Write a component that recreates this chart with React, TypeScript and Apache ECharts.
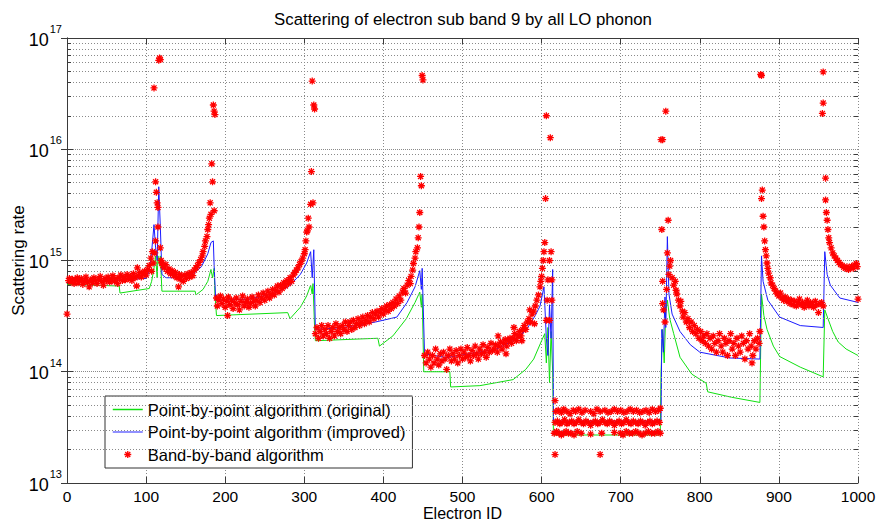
import React, { useEffect, useRef } from 'react';
import * as echarts from 'echarts';

const xMin = 0;
const xMax = 1000;
const xInterval = 100;
const yMin = 1e13;
const yMax = 1e17;
const decadeExponents = [13, 14, 15, 16];
const minorMultipliers = [2, 3, 4, 5, 6, 7, 8, 9];

const titleText = 'Scattering of electron sub band 9 by all LO phonon';
const seriesNames = [
  'Point-by-point algorithm (original)',
  'Point-by-point algorithm (improved)',
  'Band-by-band algorithm',
];

const greenLine = [
  [0, 6.1e14], [66, 5.9e14], [67, 5.1e14], [104, 5.6e14], [107, 6.5e14], [110, 8.5e14], [112, 1.1e15],
  [114, 7e14], [115, 1.1e15], [117, 9e14], [118, 1.1e15], [120, 5.3e14], [162, 5.3e14], [163, 4.9e14],
  [172, 5.5e14], [178, 6.5e14], [182, 8.3e14], [184, 7e14], [186, 8.5e14], [187, 5e14], [189, 3.2e14],
  [279, 3.4e14], [282, 3.0e14], [295, 3.8e14], [303, 4.8e14], [308, 6.0e14], [310, 5e14], [311, 6.2e14],
  [313, 2.5e14], [314, 1.9e14], [393, 2.0e14], [395, 1.7e14], [412, 2.1e14], [429, 3.0e14], [440, 4.2e14],
  [446, 5.2e14], [448, 3.8e14], [449, 5e14], [451, 1.0e14], [484, 1.0e14], [485, 7.3e13], [522, 7.5e13],
  [564, 8.5e13], [580, 1.05e14], [590, 1.3e14], [600, 1.9e14], [604, 2.2e14], [606, 1.2e14], [608, 2.5e14],
  [610, 8e13], [612, 2.3e14], [614, 1e14], [615, 2.7e13], [750, 2.7e13], [751, 1e14], [753, 2.4e14],
  [755, 1.2e14], [757, 3.5e14], [759, 4.4e14], [762, 3.0e14], [767, 2.2e14], [775, 1.35e14], [790, 9.5e13],
  [808, 7.9e13], [810, 6.6e13], [840, 5.9e13], [876, 5.3e13], [878, 5.0e14], [881, 3.2e14], [885, 2.4e14],
  [893, 1.7e14], [901, 1.37e14], [927, 1.1e14], [956, 9e13], [958, 3.6e14], [962, 3.0e14], [968, 2.3e14],
  [975, 1.85e14], [985, 1.6e14], [1000, 1.4e14],
];

const blueLine = [
  [0, 6.6e14], [50, 6.6e14], [100, 6.9e14], [104, 8.0e14], [107, 1.2e15], [110, 2.1e15], [112, 1.3e15],
  [114, 1.0e15], [116, 4.6e15], [118, 2e15], [120, 7.5e14], [125, 7.0e14], [140, 7.0e14], [160, 7.6e14],
  [170, 8.8e14], [178, 1.15e15], [182, 1.45e15], [185, 1.5e15], [186, 9e14], [188, 4.4e14], [230, 4.5e14],
  [260, 5.0e14], [280, 5.8e14], [295, 7.5e14], [303, 9.5e14], [308, 1.2e15], [310, 7e14], [312, 1.25e15],
  [314, 2.4e14], [350, 2.5e14], [390, 2.8e14], [417, 3.1e14], [430, 4.2e14], [440, 5.8e14], [446, 8.1e14],
  [448, 5.5e14], [449, 8.5e14], [452, 1.45e14], [480, 1.34e14], [543, 1.6e14], [570, 2.0e14], [581, 2.4e14],
  [592, 3.2e14], [598, 3.9e14], [603, 5.8e14], [606, 2e14], [608, 1.4e14], [610, 4e14], [612, 2e14],
  [614, 8.3e14], [615, 3.6e13], [751, 3.6e13], [752, 2.4e14], [754, 1.5e14], [756, 4.7e14], [757, 2.5e14],
  [759, 1.64e15], [761, 5e14], [765, 3.3e14], [775, 2.3e14], [788, 1.75e14], [800, 1.5e14], [838, 1.33e14],
  [876, 1.3e14], [878, 1.1e15], [880, 6.5e14], [886, 4.4e14], [901, 3.1e14], [927, 2.6e14], [956, 2.5e14],
  [958, 1.2e15], [961, 7.5e14], [965, 6e14], [977, 4.6e14], [1000, 4.2e14],
];

const redSegA = [
  [0, 3.3e14], [2, 6.6e14], [3, 6.9e14], [5, 6.4e14], [7, 6.8e14], [9, 6.2e14], [11, 6.7e14], [13, 7.0e14],
  [14, 6.3e14], [16, 6.6e14], [18, 6.9e14], [20, 6.1e14], [22, 6.5e14], [24, 7.1e14], [26, 6.4e14], [28, 5.8e14],
  [30, 6.7e14], [32, 6.3e14], [34, 7.0e14], [36, 6.6e14], [38, 6.2e14], [40, 6.8e14], [42, 7.2e14], [44, 6.5e14],
  [46, 6.0e14], [48, 6.9e14], [50, 6.6e14], [52, 7.1e14], [54, 6.4e14], [56, 6.8e14], [58, 7.3e14], [60, 6.5e14],
  [62, 6.9e14], [64, 6.2e14], [66, 7.0e14], [68, 7.4e14], [70, 6.6e14], [72, 7.1e14], [74, 6.7e14], [76, 7.5e14],
  [78, 6.9e14], [80, 7.2e14], [82, 6.6e14], [84, 7.6e14], [86, 7.0e14], [88, 5.9e14], [89, 8.6e14], [90, 7.3e14],
  [92, 7.8e14], [94, 7.1e14], [96, 7.6e14], [98, 8.0e14], [100, 7.4e14], [102, 8.3e14], [104, 9.0e14],
  [106, 1.05e15], [107, 8.0e14], [108, 1.2e15], [109, 9.5e14],
];

const redSpike1 = [
  [110, 3.56e16], [111, 1.17e15], [112, 5.1e15], [112, 1.5e15], [113, 4.1e15], [114, 3.3e15], [115, 3.0e15],
  [115, 2.0e15], [116, 6.3e16], [117, 6.6e16], [118, 6.4e16], [118, 1.3e15], [119, 1.0e15], [120, 9.5e14],
];

const redSegB = [
  [121, 9.0e14], [123, 8.6e14], [125, 9.2e14], [127, 8.0e14], [129, 8.4e14], [131, 7.6e14], [133, 8.1e14],
  [135, 7.3e14], [137, 7.8e14], [139, 7.0e14], [141, 5.8e14], [142, 7.5e14], [143, 6.8e14], [145, 7.2e14],
  [147, 6.5e14], [149, 7.4e14], [151, 6.9e14], [153, 7.6e14], [155, 7.1e14], [157, 7.8e14], [159, 7.3e14],
  [161, 8.2e14], [163, 8.6e14], [165, 9.0e14], [167, 9.6e14], [169, 1.02e15], [171, 1.1e15], [172, 1.2e15],
  [174, 1.34e15], [175, 1.5e15], [177, 1.64e15], [178, 1.9e15], [179, 2.1e15], [180, 2.4e15], [181, 3.3e15],
  [182, 2.6e15], [183, 7.4e15], [184, 5.1e15], [186, 2.8e15], [185, 2.5e16], [186, 2.2e16], [187, 2.05e16],
];

const redSegC = [
  [189, 4.6e14], [190, 3.9e14], [192, 4.4e14], [194, 4.8e14], [196, 4.1e14], [198, 4.5e14], [200, 3.8e14],
  [202, 4.3e14], [203, 3.2e14], [204, 4.7e14], [206, 4.0e14], [208, 4.4e14], [210, 3.7e14], [212, 4.2e14],
  [214, 4.6e14], [216, 4.0e14], [218, 3.6e14], [220, 4.3e14], [222, 4.8e14], [224, 3.9e14], [226, 4.2e14],
  [228, 4.5e14], [230, 3.8e14], [232, 4.1e14], [234, 4.7e14], [236, 4.3e14], [238, 3.9e14], [240, 4.4e14],
  [242, 4.9e14], [244, 4.2e14], [246, 4.6e14], [248, 5.1e14], [250, 4.4e14], [252, 4.8e14], [254, 5.3e14],
  [256, 4.6e14], [258, 5.0e14], [260, 5.5e14], [262, 4.9e14], [264, 5.4e14], [266, 5.9e14], [268, 5.2e14],
  [270, 6.0e14], [272, 5.6e14], [274, 6.3e14], [276, 5.9e14], [278, 6.6e14], [280, 6.2e14], [282, 7.0e14],
  [284, 6.5e14], [286, 7.4e14], [288, 7.8e14], [290, 8.2e14], [292, 8.6e14], [294, 9.2e14], [296, 9.8e14],
  [298, 1.05e15], [300, 1.15e15], [301, 1.25e15], [302, 1.5e15], [303, 1.8e15], [304, 1.85e15], [305, 2.4e15],
  [306, 2.0e15], [308, 3.2e15], [309, 6.3e15], [310, 4.1e16], [311, 3.3e15], [312, 2.5e16], [313, 2.3e16],
];

const redSegD = [
  [314, 2.2e14], [316, 2.5e14], [318, 2.0e14], [320, 2.3e14], [322, 2.6e14], [324, 2.1e14], [326, 2.4e14],
  [328, 2.2e14], [330, 2.6e14], [332, 2.0e14], [334, 2.3e14], [336, 2.5e14], [338, 2.1e14], [340, 2.7e14],
  [342, 2.3e14], [344, 2.5e14], [346, 2.2e14], [348, 2.6e14], [350, 2.4e14], [352, 2.8e14], [354, 2.3e14],
  [356, 2.6e14], [358, 2.8e14], [360, 2.4e14], [362, 2.9e14], [364, 2.5e14], [366, 2.7e14], [368, 3.0e14],
  [370, 2.6e14], [372, 2.8e14], [374, 3.1e14], [376, 2.7e14], [378, 2.9e14], [380, 3.2e14], [382, 2.8e14],
  [384, 3.1e14], [386, 3.4e14], [388, 3.0e14], [390, 3.3e14], [392, 3.5e14], [394, 3.1e14], [396, 3.4e14],
  [398, 3.7e14], [400, 3.3e14], [402, 3.6e14], [404, 3.9e14], [406, 3.5e14], [408, 4.0e14], [410, 3.7e14],
  [412, 4.2e14], [414, 3.9e14], [416, 4.5e14], [418, 4.1e14], [420, 4.8e14], [422, 4.4e14], [424, 5.2e14],
  [426, 5.6e14], [428, 5.1e14], [430, 6.0e14], [432, 6.6e14], [434, 6.2e14], [435, 7.2e14], [437, 8.2e14],
  [438, 9.4e14], [440, 1.05e15], [441, 1.2e15], [443, 1.3e15], [444, 1.6e15], [445, 2.0e15], [446, 2.7e15],
  [447, 5.7e15], [448, 4.7e15], [449, 4.6e16], [450, 4.2e16],
];

const redSegE = [
  [452, 1.4e14], [454, 1.2e14], [456, 1.5e14], [458, 1.3e14], [460, 1.1e14], [462, 1.4e14], [464, 1.2e14],
  [466, 1.6e14], [468, 1.3e14], [470, 1.15e14], [472, 1.45e14], [474, 1.25e14], [476, 1.5e14], [478, 1.3e14],
  [480, 1.05e14], [482, 1.4e14], [484, 1.6e14], [486, 1.25e14], [488, 1.45e14], [490, 1.3e14], [492, 1.55e14],
  [494, 1.2e14], [496, 1.4e14], [498, 1.6e14], [500, 1.3e14], [502, 1.5e14], [504, 1.35e14], [506, 1.65e14],
  [508, 1.4e14], [510, 1.25e14], [512, 1.55e14], [514, 1.4e14], [516, 1.7e14], [518, 1.45e14], [520, 1.3e14],
  [522, 1.6e14], [524, 1.45e14], [526, 1.75e14], [528, 1.5e14], [530, 1.35e14], [532, 1.65e14], [534, 1.5e14],
  [536, 1.8e14], [538, 1.55e14], [540, 1.6e14], [542, 1.75e14], [544, 1.5e14], [545, 2.1e14], [546, 1.7e14],
  [548, 1.85e14], [550, 1.6e14], [552, 1.8e14], [554, 1.95e14], [555, 1.45e14], [556, 1.7e14], [558, 1.9e14],
  [560, 2.0e14], [562, 1.8e14], [564, 2.0e14], [565, 2.5e14], [566, 2.2e14], [568, 1.9e14], [570, 2.1e14],
  [572, 2.3e14], [574, 2.1e14], [575, 1.9e14], [576, 2.4e14], [578, 2.6e14], [580, 2.4e14], [582, 2.8e14],
  [584, 3.0e14], [585, 3.6e14], [586, 2.8e14], [588, 3.3e14], [590, 3.5e14], [591, 2.7e14], [592, 3.9e14],
  [594, 4.4e14], [596, 4.9e14], [598, 5.8e14], [599, 6.5e14], [600, 7.2e14], [601, 8.5e14], [602, 1.0e15],
  [603, 1.2e15], [604, 1.45e15], [605, 3.6e15], [606, 2.9e14], [607, 4.4e14], [608, 6.7e14], [606, 2.0e16],
  [610, 1.0e15], [611, 1.27e16], [612, 1.2e15], [613, 6.7e14], [613, 4.4e14], [610, 2.9e14], [617, 5.5e13],
];

const redSegF = [
  [618, 4.4e13], [621, 4.5e13], [625, 4.3e13], [628, 4.6e13], [632, 4.4e13], [636, 4.2e13], [640, 4.5e13],
  [643, 4.4e13], [647, 4.6e13], [651, 4.3e13], [655, 4.5e13], [662, 4.4e13], [666, 4.2e13], [670, 4.6e13],
  [674, 4.4e13], [680, 4.5e13], [684, 4.3e13], [688, 4.4e13], [692, 4.6e13], [696, 4.4e13], [700, 4.5e13],
  [704, 4.3e13], [708, 4.4e13], [712, 4.6e13], [716, 4.4e13], [720, 4.5e13], [724, 4.3e13], [728, 4.4e13],
  [732, 4.5e13], [736, 4.3e13], [740, 4.6e13], [744, 4.4e13], [748, 4.5e13], [750, 4.7e13],
  [617, 3.5e13], [620, 3.6e13], [623, 3.4e13], [626, 3.5e13], [629, 3.7e13], [632, 3.4e13], [635, 3.5e13],
  [638, 3.6e13], [641, 3.4e13], [644, 3.5e13], [647, 3.7e13], [650, 3.5e13], [653, 3.4e13], [656, 3.6e13],
  [659, 3.5e13], [662, 3.3e13], [665, 3.5e13], [668, 3.6e13], [671, 3.4e13], [674, 3.5e13], [677, 3.7e13],
  [680, 3.5e13], [683, 3.4e13], [686, 3.6e13], [689, 3.5e13], [692, 3.3e13], [695, 3.5e13], [698, 3.6e13],
  [701, 3.4e13], [704, 3.5e13], [707, 3.7e13], [710, 3.5e13], [713, 3.4e13], [716, 3.6e13], [719, 3.5e13],
  [722, 3.4e13], [725, 3.6e13], [728, 3.5e13], [731, 3.3e13], [734, 3.5e13], [737, 3.6e13], [740, 3.4e13],
  [743, 3.5e13], [746, 3.6e13], [749, 3.5e13],
  [616, 2.8e13], [619, 2.9e13], [622, 2.8e13], [625, 2.7e13], [628, 2.8e13], [631, 2.9e13], [634, 2.8e13],
  [637, 2.8e13], [641, 2.7e13], [645, 2.9e13], [650, 2.8e13], [662, 2.75e13], [676, 2.8e13], [692, 2.85e13],
  [700, 2.8e13], [703, 2.7e13], [707, 2.9e13], [711, 2.8e13], [715, 2.8e13], [719, 2.9e13], [723, 2.8e13],
  [727, 2.7e13], [731, 2.8e13], [735, 2.9e13], [739, 2.8e13], [743, 2.8e13], [747, 2.9e13], [750, 2.8e13],
  [617, 1.8e13], [674, 1.8e13],
];

const redSegG = [
  [751, 1.22e16], [753, 1.22e16], [757, 2.2e16], [752, 1.9e15], [760, 2.3e15], [759, 1.17e15], [762, 8.9e14],
  [753, 6.5e14], [753, 4.1e14], [754, 3.6e14], [756, 2.8e14], [758, 5.5e14], [761, 7.5e14], [763, 1.0e15],
  [765, 7.0e14], [767, 6.0e14], [769, 6.5e14], [770, 5.4e14], [771, 5.0e14], [773, 4.4e14], [775, 3.9e14],
  [776, 4.3e14], [778, 3.5e14], [779, 3.1e14], [781, 3.4e14], [783, 2.8e14], [785, 3.0e14], [787, 2.5e14],
  [789, 2.8e14], [791, 2.3e14], [793, 2.6e14], [795, 2.2e14], [797, 2.4e14], [799, 2.0e14], [801, 2.3e14],
  [803, 1.9e14], [805, 2.1e14], [807, 1.8e14], [809, 2.2e14], [811, 1.7e14], [813, 2.0e14], [815, 1.6e14],
  [817, 2.1e14], [819, 1.8e14], [821, 1.5e14], [823, 1.9e14], [825, 2.2e14], [827, 1.7e14], [829, 1.5e14],
  [831, 2.0e14], [833, 1.8e14], [835, 1.4e14], [837, 1.9e14], [839, 2.2e14], [841, 1.6e14], [843, 1.8e14],
  [845, 1.4e14], [847, 2.0e14], [849, 1.7e14], [851, 1.5e14], [853, 2.1e14], [855, 1.8e14], [857, 1.3e14],
  [859, 1.9e14], [861, 1.6e14], [863, 2.2e14], [865, 1.7e14], [866, 1.2e14], [867, 1.4e14], [869, 1.9e14],
  [871, 1.6e14], [873, 2.0e14], [875, 1.8e14], [876, 2.3e14],
];

const redSegH = [
  [877, 4.7e16], [878, 4.6e16], [878, 3.6e15], [879, 4.3e15], [880, 2.5e15], [881, 2.0e15], [882, 1.5e15],
  [883, 1.25e15], [884, 1.1e15], [885, 9.5e14], [886, 8.5e14], [887, 7.7e14], [889, 7.0e14], [890, 6.3e14],
  [892, 6.0e14], [894, 5.6e14], [896, 5.3e14], [898, 5.0e14], [900, 4.8e14], [902, 5.1e14], [904, 4.6e14],
  [906, 4.4e14], [908, 4.7e14], [910, 4.3e14], [912, 4.5e14], [914, 4.1e14], [916, 4.4e14], [918, 4.0e14],
  [920, 4.3e14], [922, 3.9e14], [924, 4.2e14], [926, 4.5e14], [928, 4.0e14], [930, 4.2e14], [932, 3.8e14],
  [934, 4.1e14], [936, 4.4e14], [938, 3.9e14], [940, 4.2e14], [942, 4.0e14], [944, 3.8e14], [946, 4.3e14],
  [948, 4.0e14], [950, 3.4e14], [952, 4.1e14], [954, 4.2e14], [956, 3.9e14],
];

const redSegI = [
  [956, 4.96e16], [956, 2.6e16], [955, 2.1e16], [959, 5.5e15], [959, 3.5e15], [960, 2.7e15], [961, 2.3e15],
  [962, 1.9e15], [963, 1.6e15], [964, 1.45e15], [966, 1.3e15], [968, 1.17e15], [970, 1.1e15], [972, 1.05e15],
  [974, 1.0e15], [976, 9.6e14], [978, 9.2e14], [980, 9.0e14], [982, 8.7e14], [984, 8.5e14], [986, 8.8e14],
  [988, 8.3e14], [990, 8.6e14], [992, 8.9e14], [994, 8.5e14], [996, 9.1e14], [998, 9.4e14], [999, 8.8e14],
  [1000, 4.5e14],
];

const redPoints = [
  ...redSegA, ...redSpike1, ...redSegB, ...redSegC, ...redSegD, ...redSegE, ...redSegF, ...redSegG,
  ...redSegH, ...redSegI,
];

const FONT = '"Liberation Sans", Arial, Helvetica, sans-serif';
const STAR = 'path://M0 -5 L0 5 M-5 0 L5 0 M-3.6 -3.6 L3.6 3.6 M-3.6 3.6 L3.6 -3.6';
const STAR_LEGEND = 'path://M-15 -7 M15 7 M0 -3.5 L0 3.5 M-3.5 0 L3.5 0 M-2.5 -2.5 L2.5 2.5 M-2.5 2.5 L2.5 -2.5';
const LINE_LEGEND = 'path://M0 -7 M30 7 M0 0 L30 0';
const GREEN = '#10e010';
const BLUE = '#1a1aff';
const RED = '#ff0000';

export default function App() {
  const ref = useRef<HTMLDivElement>(null);
  useEffect(() => {
    if (!ref.current) return;
    const chart = echarts.init(ref.current, null, { renderer: 'svg' });
    const axisColor = '#3a3a3a';
    const gridColor = '#8a8a8a';
    const minorValues: number[] = [];
    decadeExponents.forEach((d) => minorMultipliers.forEach((m) => minorValues.push(m * Math.pow(10, d))));
    const minorTickSegs: any[] = [];
    minorValues.forEach((v) => {
      minorTickSegs.push([{ coord: [xMin, v] }, { coord: [xMin + 5, v] }]);
      minorTickSegs.push([{ coord: [xMax - 5, v] }, { coord: [xMax, v] }]);
    });

    chart.setOption({
      animation: false,
      backgroundColor: '#ffffff',
      graphic: [
        {
          type: 'text',
          x: 463,
          y: 19,
          silent: true,
          style: {
            text: titleText,
            fontFamily: FONT,
            fontSize: 16.8,
            fill: '#000',
            align: 'center',
            verticalAlign: 'middle',
          },
        },
      ],
      grid: { left: 67, right: 19, top: 38, bottom: 39, containLabel: false, outerBoundsMode: 'none' },
      legend: {
        orient: 'vertical',
        left: 105,
        top: 396,
        padding: [5, 7, 5, 7],
        itemGap: 5.5,
        itemWidth: 30,
        itemHeight: 14,
        borderColor: '#333',
        borderWidth: 1,
        borderRadius: 0,
        backgroundColor: '#fff',
        textStyle: { fontFamily: FONT, fontSize: 16.5, color: '#000', lineHeight: 17 },
        data: [
          { name: seriesNames[0], icon: LINE_LEGEND, itemStyle: { color: GREEN, borderColor: GREEN, borderWidth: 1.5 } },
          { name: seriesNames[1], icon: LINE_LEGEND, itemStyle: { color: BLUE, borderColor: '#6b6bff', borderWidth: 1.5 } },
          { name: seriesNames[2], icon: STAR_LEGEND, itemStyle: { color: RED, borderColor: RED, borderWidth: 1.3 } },
        ],
      },
      xAxis: [
        {
          type: 'value',
          min: xMin,
          max: xMax,
          interval: xInterval,
          name: 'Electron ID',
          nameLocation: 'middle',
          nameGap: 23,
          nameMoveOverlap: false,
          nameTextStyle: { fontFamily: FONT, fontSize: 16, color: '#000', lineHeight: 14 },
          axisLine: { show: true, lineStyle: { color: axisColor, width: 1 } },
          axisTick: { show: true, inside: true, length: 6, lineStyle: { color: axisColor } },
          axisLabel: { fontFamily: FONT, fontSize: 15.5, color: '#000', margin: 5, formatter: (v: number) => String(v) },
          splitLine: { show: true, lineStyle: { color: gridColor, type: [1, 2], width: 1 } },
        },
        {
          type: 'value',
          position: 'top',
          min: xMin,
          max: xMax,
          interval: xInterval,
          axisLine: { show: true, lineStyle: { color: axisColor, width: 1 } },
          axisTick: { show: true, inside: true, length: 6, lineStyle: { color: axisColor } },
          axisLabel: { show: false },
          splitLine: { show: false },
        },
      ],
      yAxis: [
        {
          type: 'log',
          logBase: 10,
          position: 'left',
          min: yMin,
          max: yMax,
          name: 'Scattering rate',
          nameLocation: 'middle',
          nameRotate: 90,
          nameGap: 40,
          nameMoveOverlap: false,
          nameTextStyle: { fontFamily: FONT, fontSize: 17, color: '#000' },
          axisLine: { show: true, lineStyle: { color: axisColor, width: 1 } },
          axisTick: { show: true, inside: true, length: 6, lineStyle: { color: axisColor } },
          axisLabel: {
            margin: 5,
            formatter: (val: number) => '{b|10}{e|' + Math.round(Math.log10(val)) + '}',
            rich: {
              b: { fontFamily: FONT, fontSize: 18, color: '#000', padding: [7, 0, 4, 0] },
              e: { fontFamily: FONT, fontSize: 11, color: '#000', verticalAlign: 'top', padding: [0, 0, 0, 1] },
            },
          },
          splitLine: { show: true, lineStyle: { color: gridColor, type: [1, 1], width: 1 } },
        },
        {
          type: 'log',
          logBase: 10,
          position: 'right',
          min: yMin,
          max: yMax,
          axisLine: { show: true, lineStyle: { color: axisColor, width: 1 } },
          axisTick: { show: true, inside: true, length: 6, lineStyle: { color: axisColor } },
          axisLabel: { show: false },
          splitLine: { show: false },
        },
      ],
      series: [
        {
          type: 'line',
          name: 'minor-grid',
          data: [],
          silent: true,
          z: 1,
          markLine: {
            silent: true,
            symbol: ['none', 'none'],
            label: { show: false },
            emphasis: { disabled: true },
            lineStyle: { color: gridColor, type: [1, 2], width: 1 },
            data: minorValues.map((v) => ({ yAxis: v })),
          },
        },
        {
          type: 'line',
          name: 'minor-ticks',
          data: [],
          silent: true,
          z: 1,
          markLine: {
            silent: true,
            symbol: ['none', 'none'],
            label: { show: false },
            emphasis: { disabled: true },
            lineStyle: { color: axisColor, type: 'solid', width: 1 },
            data: minorTickSegs,
          },
        },
        {
          type: 'line',
          name: seriesNames[0],
          data: greenLine,
          symbol: 'none',
          silent: true,
          z: 3,
          lineStyle: { color: GREEN, width: 1 },
          itemStyle: { color: GREEN },
        },
        {
          type: 'line',
          name: seriesNames[1],
          data: blueLine,
          symbol: 'none',
          silent: true,
          z: 4,
          lineStyle: { color: BLUE, width: 1 },
          itemStyle: { color: BLUE },
        },
        {
          type: 'scatter',
          name: seriesNames[2],
          data: redPoints,
          symbol: STAR,
          symbolSize: 7,
          silent: true,
          z: 5,
          itemStyle: { color: RED, borderColor: RED, borderWidth: 1.3, opacity: 1 },
        },
      ],
    });
    return () => chart.dispose();
  }, []);
  return (
    <div
      ref={ref}
      style={{ position: 'fixed', left: 0, top: 0, width: 877, height: 522, background: '#fff' }}
    />
  );
}
